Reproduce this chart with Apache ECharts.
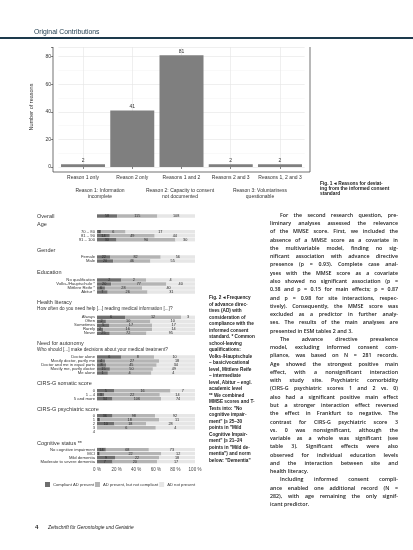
<!DOCTYPE html>
<html><head><meta charset="utf-8">
<script src="https://cdn.jsdelivr.net/npm/echarts@6/dist/echarts.min.js"></script>
<style>
html,body{margin:0;padding:0;background:#fff;}
#page{position:relative;width:413px;height:550px;overflow:hidden;background:#fff;font-family:"Liberation Sans",Arial,sans-serif;color:#222;}
#chart{position:absolute;left:0;top:0;width:413px;height:550px;}
.t{position:absolute;white-space:nowrap;z-index:2;}
.body{position:absolute;left:270px;top:210.9px;width:128px;font-family:"Open Sans","Liberation Sans",sans-serif;font-weight:600;font-size:5.3px;line-height:8.28px;color:#1a1a1a;z-index:2;}
.body div{white-space:nowrap;height:8.28px;text-align:justify;text-align-last:justify;}
.body div.end{text-align-last:left;}
.body div.ind{padding-left:10px;}
.cap{position:absolute;font-weight:bold;color:#222;z-index:2;white-space:nowrap;}
.cap div{height:6.5px;line-height:6.5px;}
</style></head>
<body><div id="page">
<div id="chart"></div>
<div class="t" style="left:34px;top:28px;font-size:6.8px;color:#1d3a4c;line-height:8px;">Original Contributions</div>
<div class="t" style="left:0;top:37px;width:413px;height:2px;background:#1d3a4c;"></div>
<div class="cap" style="left:320px;top:180.5px;font-size:4.8px;"><div style="height:5.3px;line-height:5.3px">Fig. 1 ◂ Reasons for deviat-</div><div style="height:5.3px;line-height:5.3px">ing from the informed consent</div><div style="height:5.3px;line-height:5.3px">standard</div></div>
<div class="cap" id="cap2" style="left:209px;top:295px;font-size:4.7px;"></div>
<div class="body" id="body"></div>
<div class="t" style="left:35px;top:523px;font-size:6px;font-weight:bold;line-height:8px;">4</div>
<div class="t" style="left:48px;top:524px;font-size:4.8px;font-style:italic;line-height:7px;">Zeitschrift für Gerontologie und Geriatrie</div>
</div>
<script>
// ---------- Fig. 1 data ----------
const reasonCategories = ['Reason 1 only', 'Reason 2 only', 'Reasons 1 and 2', 'Reasons 2 and 3', 'Reasons 1, 2 and 3'];
const reasonCounts = [2, 41, 81, 2, 2];
const reasonKey = [['Reason 1: Information', 'incomplete'], ['Reason 2: Capacity to consent', 'not documented'], ['Reason 3: Voluntariness', 'questionable']];

// ---------- Fig. 2 data ----------
const seriesNames = ['Compliant AD present', 'AD present, but not compliant', 'AD not present'];
const percentTicks = [0, 20, 40, 60, 80, 100];

const overallLabels = ['Overall'];
const overallCompliant = [58];
const overallPartial = [115];
const overallNone = [108];

const ageLabels = ['70 – 80', '81 – 90', '91 – 100'];
const ageCompliant = [1, 14, 30];
const agePartial = [6, 49, 90];
const ageNone = [17, 44, 30];

const genderLabels = ['Female', 'Male'];
const genderCompliant = [22, 20];
const genderPartial = [82, 46];
const genderNone = [56, 55];

const eduLabels = ['No qualification', 'Volks-/Hauptschule *', 'Mittlere Reife *', 'Abitur *'];
const eduCompliant = [2, 20, 6, 7];
const eduPartial = [2, 77, 28, 26];
const eduNone = [4, 40, 40, 31];

const hlLabels = ['Always', 'Often', 'Sometimes', 'Rarely', 'Never'];
const hlCompliant = [6, 2, 5, 2, 25];
const hlPartial = [12, 10, 17, 16, 72];
const hlNone = [3, 10, 17, 14, 95];

const autLabels = ['Doctor alone', 'Mostly doctor, partly me', 'Doctor and me in equal parts', 'Mostly me, partly doctor', 'Me alone'];
const autCompliant = [6, 4, 8, 15, 1];
const autPartial = [8, 27, 45, 50, 4];
const autNone = [10, 18, 34, 49, 4];

const somLabels = ['0', '1 – 4', '5 and more'];
const somCompliant = [5, 3, 34];
const somPartial = [16, 22, 106];
const somNone = [7, 14, 74];

const psyLabels = ['0', '1', '2', '3', '4'];
const psyCompliant = [36, 1, 10, 0, 0];
const psyPartial = [98, 18, 18, 6, 0];
const psyNone = [92, 11, 28, 4, 0];

const cogLabels = ['No cognitive impairment', 'MCI', 'Mild dementia', 'Moderate to severe dementia'];
const cogCompliant = [14, 1, 9, 7];
const cogPartial = [68, 22, 22, 20];
const cogNone = [73, 12, 18, 17];

const groups = [
  {title: 'Overall', sub: null, titleY: 216, y0: 216, labels: overallLabels, c: [overallCompliant, overallPartial, overallNone], hideLabels: true},
  {title: 'Age', sub: null, titleY: 224, y0: 231.7, labels: ageLabels, c: [ageCompliant, agePartial, ageNone]},
  {title: 'Gender', sub: null, titleY: 250, y0: 257, labels: genderLabels, c: [genderCompliant, genderPartial, genderNone]},
  {title: 'Education', sub: null, titleY: 272, y0: 280, labels: eduLabels, c: [eduCompliant, eduPartial, eduNone]},
  {title: 'Health literacy', sub: 'How often do you need help [...] reading medical information [...]?', titleY: 302, y0: 317.3, labels: hlLabels, c: [hlCompliant, hlPartial, hlNone]},
  {title: 'Need for autonomy', sub: 'Who should [...] make decisions about your medical treatment?', titleY: 343, y0: 357, labels: autLabels, c: [autCompliant, autPartial, autNone]},
  {title: 'CIRS-G somatic score', sub: null, titleY: 383, y0: 390.7, labels: somLabels, c: [somCompliant, somPartial, somNone]},
  {title: 'CIRS-G psychiatric score', sub: null, titleY: 409, y0: 415.7, labels: psyLabels, c: [psyCompliant, psyPartial, psyNone]},
  {title: 'Cognitive status **', sub: null, titleY: 443, y0: 449.6, labels: cogLabels, c: [cogCompliant, cogPartial, cogNone]}
];
const segColors = ['#6e6e6e', '#b4b4b4', '#e6e6e6'];

// ---------- text blocks ----------
const bodyLines = [
  ['For the second research question, pre-', 'ind'],
  ['liminary analyses assessed the relevance', ''],
  ['of the MMSE score. First, we included the', ''],
  ['absence of a MMSE score as a covariate in', ''],
  ['the multivariable model, finding no sig-', ''],
  ['nificant association with advance directive', ''],
  ['presence (p = 0.93). Complete case anal-', ''],
  ['yses with the MMSE score as a covariate', ''],
  ['also showed no significant association (p =', ''],
  ['0.38 and p = 0.15 for main effects; p = 0.87', ''],
  ['and p = 0.98 for site interactions, respec-', ''],
  ['tively). Consequently, the MMSE score was', ''],
  ['excluded as a predictor in further analy-', ''],
  ['ses. The results of the main analyses are', ''],
  ['presented in ESM tables 2 and 3.', 'end'],
  ['The advance directive prevalence', 'ind'],
  ['model, excluding informed consent com-', ''],
  ['pliance, was based on N = 281 records.', ''],
  ['Age showed the strongest positive main', ''],
  ['effect, with a nonsignificant interaction', ''],
  ['with study site. Psychiatric comorbidity', ''],
  ['(CIRS-G psychiatric scores 1 and 2 vs. 0)', ''],
  ['also had a significant positive main effect', ''],
  ['but a stronger interaction effect reversed', ''],
  ['the effect in Frankfurt to negative. The', ''],
  ['contrast for CIRS-G psychiatric score 3', ''],
  ['vs. 0 was nonsignificant, although the', ''],
  ['variable as a whole was significant (see', ''],
  ['table 3). Significant effects were also', ''],
  ['observed for individual education levels', ''],
  ['and the interaction between site and', ''],
  ['health literacy.', 'end'],
  ['Including informed consent compli-', 'ind'],
  ['ance enabled one additional record (N =', ''],
  ['282), with age remaining the only signif-', ''],
  ['icant predictor.', 'end']
];
const cap2Lines = ['Fig. 2 ◂ Frequency', 'of advance direc-', 'tives (AD) with', 'consideration of', 'compliance with the', 'informed consent', 'standard. * Common', 'school-leaving', 'qualifications:', 'Volks-/Hauptschule', '– basic/vocational', 'level, Mittlere Reife', '– intermediate', 'level, Abitur – engl.', 'academic level', '** We combined', 'MMSE scores and T-', 'Tests into: "No', 'cognitive impair-', 'ment" (≥ 25–30', 'points in "Mild', 'Cognitive Impair-', 'ment" (≥ 21–24', 'points in "Mild de-', 'mentia") and norm', 'below: "Dementia"'];

document.getElementById('body').innerHTML = bodyLines.map(l => '<div class="' + (l[1] === 'ind' ? 'ind' : '') + (l[1] === 'end' ? ' end' : '') + '">' + l[0] + '</div>').join('');
document.getElementById('cap2').innerHTML = cap2Lines.map(l => '<div>' + l + '</div>').join('');

// ---------- chart ----------
const FONT = '"Liberation Sans", Arial, sans-serif';
const grids = [], xAxes = [], yAxes = [], series = [], graphics = [];

// Fig. 1
grids.push({left: 58.4, right: 108.4, top: 47, bottom: 383});
xAxes.push({
  type: 'category', gridIndex: 0, data: reasonCategories, offset: 5,
  axisLine: {show: false},
  axisTick: {show: true, alignWithLabel: true, length: 2, lineStyle: {color: '#333', width: 0.6}},
  axisLabel: {fontSize: 5, color: '#333', margin: 3, interval: 0, fontFamily: FONT},
  splitLine: {show: true, alignWithLabel: true, lineStyle: {color: '#e4e4e4', width: 0.6}}
});
yAxes.push({
  type: 'value', gridIndex: 0, min: 0, max: 87, interval: 20, offset: 5.4,
  name: 'Number of reasons', nameLocation: 'middle', nameGap: 12,
  nameTextStyle: {fontSize: 5.5, color: '#333', fontFamily: FONT},
  axisLine: {show: false},
  axisTick: {show: true, length: 2, lineStyle: {color: '#333', width: 0.6}},
  axisLabel: {fontSize: 5, color: '#333', margin: 2, fontFamily: FONT, formatter: v => (v % 20 === 0 ? String(v) : '')},
  splitLine: {lineStyle: {color: '#e4e4e4', width: 0.6}},
  minorTick: {show: false, splitNumber: 2},
  minorSplitLine: {show: true, lineStyle: {color: '#f2f2f2', width: 0.5}}
});
series.push({
  type: 'bar', xAxisIndex: 0, yAxisIndex: 0, data: reasonCounts, barWidth: 44,
  itemStyle: {color: '#7f7f7f'}, silent: true,
  label: {show: true, position: 'top', distance: 1.5, fontSize: 5, color: '#333', fontFamily: FONT}
});
graphics.push({type: 'polyline', shape: {points: [[53, 47], [53, 172], [310, 172], [310, 47]]}, style: {stroke: '#333', lineWidth: 0.7, fill: null}});
const keyCenters = [100, 180, 260];
reasonKey.forEach((k, i) => {
  k.forEach((line, j) => {
    graphics.push({type: 'text', x: keyCenters[i], y: 190.5 + j * 6.5, style: {text: line, fontSize: 5, fill: '#333', align: 'center', verticalAlign: 'middle', fontFamily: FONT}});
  });
});

// Fig. 2
groups.forEach((g, gi) => {
  const idx = gi + 1;
  const n = g.labels.length;
  const isLast = gi === groups.length - 1;
  grids.push({left: 97, right: 218, top: g.y0 - 2, height: n * 4});
  xAxes.push({
    type: 'value', gridIndex: idx, min: 0, max: 100, interval: 20, show: isLast,
    axisLine: {show: false}, axisTick: {show: false}, splitLine: {show: false},
    axisLabel: {show: isLast, fontSize: 4.5, color: '#444', margin: 3.5, formatter: '{value} %', fontFamily: FONT}
  });
  yAxes.push({
    type: 'category', gridIndex: idx, data: g.labels, inverse: true,
    axisLine: {show: false}, axisTick: {show: false}, splitLine: {show: false},
    axisLabel: {show: !g.hideLabels, fontSize: 4.2, color: '#333', margin: 2, interval: 0, fontFamily: FONT}
  });
  const totals = g.labels.map((_, r) => g.c[0][r] + g.c[1][r] + g.c[2][r]);
  g.c.forEach((counts, si) => {
    series.push({
      type: 'bar', name: seriesNames[si], xAxisIndex: idx, yAxisIndex: idx, stack: 'g' + gi,
      barWidth: 3.4, silent: true,
      data: counts.map((v, r) => (totals[r] ? v / totals[r] * 100 : 0)),
      itemStyle: {color: segColors[si]},
      label: {show: true, position: 'inside', fontSize: 3.8, color: '#222', fontFamily: FONT,
        formatter: p => (counts[p.dataIndex] ? String(counts[p.dataIndex]) : '')}
    });
  });
  graphics.push({type: 'text', x: 37, y: g.titleY, style: {text: g.title, fontSize: 5.5, fill: '#333', verticalAlign: 'middle', fontFamily: FONT}});
  if (g.sub) {
    graphics.push({type: 'text', x: 37, y: g.titleY + 7, style: {text: g.sub, fontSize: 4.7, fill: '#333', verticalAlign: 'middle', fontFamily: FONT}});
  }
});

const chart = echarts.init(document.getElementById('chart'), null, {renderer: 'canvas'});
chart.setOption({
  animation: false,
  backgroundColor: '#fff',
  textStyle: {fontFamily: FONT},
  grid: grids, xAxis: xAxes, yAxis: yAxes, series: series,
  legend: {
    data: seriesNames, left: 45, top: 482, itemWidth: 5, itemHeight: 5, itemGap: 1, icon: 'rect', padding: 0,
    selectedMode: false, textStyle: {fontSize: 4.2, color: '#333', fontFamily: FONT, padding: [0, 0, 0, -2]}
  },
  graphic: graphics
});
</script>
</body></html>
